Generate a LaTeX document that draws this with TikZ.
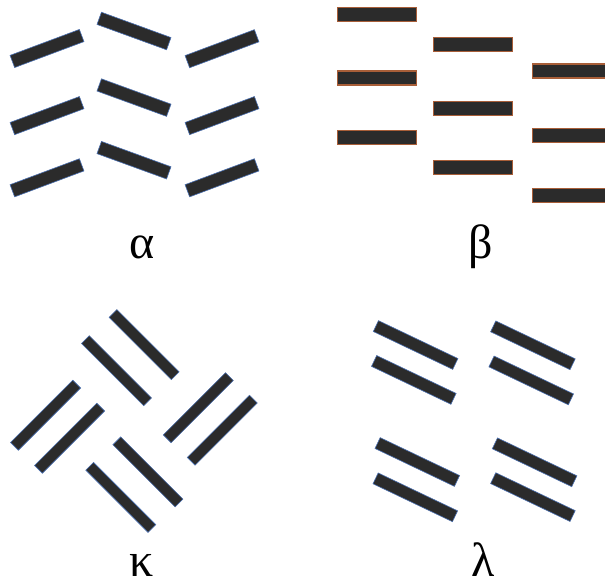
\documentclass[tikz,border=0pt]{standalone}
\usepackage{fontspec}
\setmainfont{Liberation Serif}
\definecolor{barfill}{HTML}{2B2B2B}
\definecolor{bluedge}{HTML}{4A6FB0}
\definecolor{orangedge}{HTML}{A85E38}
\begin{document}
\begin{tikzpicture}[x=1pt,y=1pt,
  abar/.style={rectangle,inner sep=0pt,fill=barfill,draw=bluedge,line width=0.6pt,minimum width=74pt,minimum height=13pt},
  bbar/.style={rectangle,inner sep=0pt,fill=barfill,draw=orangedge,line width=1.3pt,minimum width=79pt,minimum height=14pt},
  kbar/.style={rectangle,inner sep=0pt,fill=barfill,draw=bluedge,line width=0.6pt,minimum width=88pt,minimum height=11pt},
  lbar/.style={rectangle,inner sep=0pt,fill=barfill,draw=bluedge,line width=0.6pt,minimum width=88pt,minimum height=12pt},
  lab/.style={anchor=base,inner sep=0pt,font=\fontsize{48}{52}\selectfont}]
\useasboundingbox (0,0) rectangle (605,-582);
% alpha
\node[abar,rotate=20.5] (a11) at (47,-48.5) {};
\node[abar,rotate=-20] (a12) at (134,-31) {};
\node[abar,rotate=20.5] (a13) at (222,-48.7) {};
\node[abar,rotate=20.5] (a21) at (47,-115.6) {};
\node[abar,rotate=-20] (a22) at (134,-97.6) {};
\node[abar,rotate=20.5] (a23) at (222,-115.6) {};
\node[abar,rotate=20.5] (a31) at (47,-177.8) {};
\node[abar,rotate=-20] (a32) at (134,-160.2) {};
\node[abar,rotate=20.5] (a33) at (222,-177.8) {};
% beta
\node[bbar] (b11) at (376.7,-14.2) {};
\node[bbar] (b12) at (376.7,-78) {};
\node[bbar] (b13) at (376.7,-137.3) {};
\node[bbar] (b21) at (472.7,-44.2) {};
\node[bbar] (b22) at (472.7,-108.3) {};
\node[bbar] (b23) at (472.7,-167.3) {};
\node[bbar] (b31) at (572,-71) {};
\node[bbar] (b32) at (572,-135.7) {};
\node[bbar] (b33) at (572,-195.2) {};
% kappa
\node[kbar,rotate=-45] (kA) at (144.1,-344.6) {};
\node[kbar,rotate=-45] (kB) at (116.5,-370.7) {};
\node[kbar,rotate=45] (kC) at (45.6,-415.2) {};
\node[kbar,rotate=45] (kD) at (69.6,-438.2) {};
\node[kbar,rotate=45] (kE) at (198.3,-407.7) {};
\node[kbar,rotate=45] (kF) at (222.3,-430.2) {};
\node[kbar,rotate=-45] (kG) at (147.9,-471.9) {};
\node[kbar,rotate=-45] (kH) at (120.8,-497.4) {};
% lambda
\node[lbar,rotate=-25.5] (l1) at (415.6,-345) {};
\node[lbar,rotate=-25.5] (l2) at (413.8,-379.9) {};
\node[lbar,rotate=-25.5] (l3) at (532.9,-345.3) {};
\node[lbar,rotate=-25.5] (l4) at (531.2,-380.4) {};
\node[lbar,rotate=-25.5] (l5) at (417.3,-462) {};
\node[lbar,rotate=-25.5] (l6) at (415.3,-497.3) {};
\node[lbar,rotate=-25.5] (l7) at (534.6,-462.3) {};
\node[lbar,rotate=-25.5] (l8) at (532.9,-497.1) {};
% labels
\node[lab] (alpha) at (142,-258) {α};
\node[lab] (beta) at (481,-258) {β};
\node[lab] (kappa) at (142,-576) {κ};
\node[lab] (lambda) at (483,-576) {λ};
\end{tikzpicture}
\end{document}
